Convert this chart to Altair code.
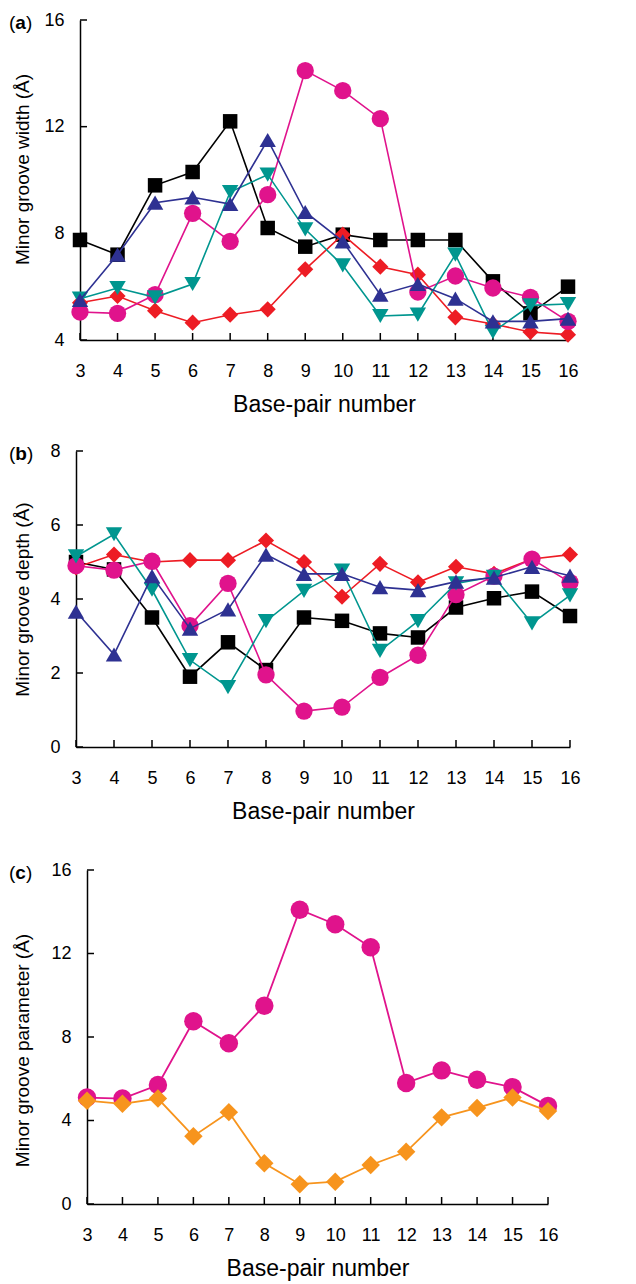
import altair as alt
import pandas as pd

# ---------------- data ----------------
base_pairs = list(range(3, 17))

# (a) minor groove width (Å)
width_black = [7.75, 7.2, 9.8, 10.3, 12.2, 8.2, 7.5, 7.95, 7.75, 7.75, 7.75, 6.2, 5.0, 6.0]
width_red = [5.4, 5.65, 5.1, 4.65, 4.95, 5.15, 6.65, 7.95, 6.75, 6.45, 4.85, 4.6, 4.3, 4.2]
width_blue = [5.5, 7.2, 9.15, 9.35, 9.1, 11.5, 8.8, 7.7, 5.7, 6.1, 5.55, 4.7, 4.7, 4.8]
width_teal = [5.55, 5.95, 5.6, 6.1, 9.55, 10.2, 8.15, 6.8, 4.9, 4.95, 7.2, 4.3, 5.3, 5.35]
width_magenta = [5.05, 5.0, 5.7, 8.75, 7.7, 9.45, 14.1, 13.35, 12.3, 5.8, 6.4, 5.95, 5.6, 4.7]

# (b) minor groove depth (Å)
depth_black = [5.0, 4.8, 3.5, 1.9, 2.83, 2.08, 3.5, 3.41, 3.07, 2.96, 3.77, 4.02, 4.2, 3.54]
depth_red = [4.85, 5.2, 5.0, 5.05, 5.05, 5.58, 5.0, 4.06, 4.95, 4.45, 4.87, 4.68, 5.08, 5.2]
depth_blue = [3.66, 2.5, 4.62, 3.2, 3.72, 5.2, 4.68, 4.68, 4.32, 4.24, 4.47, 4.58, 4.87, 4.63]
depth_teal = [5.15, 5.75, 4.25, 2.35, 1.62, 3.4, 4.22, 4.77, 2.6, 3.4, 4.42, 4.6, 3.34, 4.1]
depth_magenta = [4.9, 4.78, 5.02, 3.28, 4.42, 1.95, 0.97, 1.08, 1.88, 2.48, 4.12, 4.62, 5.08, 4.45]

# (c) minor groove parameter (Å)
param_width = [5.1, 5.05, 5.7, 8.75, 7.7, 9.5, 14.1, 13.4, 12.3, 5.8, 6.4, 5.95, 5.6, 4.7]
param_depth = [4.95, 4.8, 5.05, 3.25, 4.4, 1.95, 0.95, 1.07, 1.87, 2.5, 4.15, 4.6, 5.1, 4.45]

yticks_a = [4, 8, 12, 16]
yticks_b = [0, 2, 4, 6, 8]
yticks_c = [0, 4, 8, 12, 16]

BLACK = "#000000"
RED = "#ED1C24"
BLUE = "#2E3192"
TEAL = "#00968F"
MAGENTA = "#E0138C"
ORANGE = "#F7941D"
FONT = "Liberation Sans"


def make_panel(series, y_domain, y_ticks, y_title, letter, letter_w,
               plot_w, plot_h, left_off, shift, title_x, title_y, line_w, extra_top=0):
    # the plot area is drawn `shift` px left of the panel origin
    x_enc = alt.X(
        "bp:Q",
        scale=alt.Scale(domain=[3, 16], nice=False, zero=False,
                        range=[-shift, plot_w - shift]),
        axis=alt.Axis(values=base_pairs, title="Base-pair number", format="d",
                      labelFlush=False, labelOverlap=False, ticks=False,
                      labelPadding=22, titlePadding=13.5, titleFontSize=23,
                      labelFontSize=18, grid=False),
    )
    y_enc = alt.Y(
        "v:Q",
        scale=alt.Scale(domain=y_domain, nice=False, zero=False),
        axis=alt.Axis(values=y_ticks, title=y_title, titleX=title_x, titleY=title_y,
                      ticks=False, labelPadding=16, labelFontSize=18, offset=shift,
                      titleFontSize=19, grid=False),
    )
    layers = []
    # inward tick marks
    layers.append(
        alt.Chart(pd.DataFrame({"bp": base_pairs}))
        .mark_rule(color="black", strokeWidth=1.5)
        .encode(x=x_enc, y=alt.value(plot_h - 7), y2=alt.value(plot_h))
    )
    layers.append(
        alt.Chart(pd.DataFrame({"v": y_ticks}))
        .mark_rule(color="black", strokeWidth=1.5)
        .encode(y=y_enc, x=alt.value(-shift), x2=alt.value(-shift + 7))
    )
    for vals, color, shape, size in series:
        df = pd.DataFrame({"bp": base_pairs, "v": vals})
        ch = alt.Chart(df)
        layers.append(ch.mark_line(color=color, strokeWidth=line_w).encode(x=x_enc, y=y_enc))
        layers.append(
            ch.mark_point(shape=shape, filled=True, color=color, size=size,
                          opacity=1, strokeWidth=0).encode(x=x_enc, y=y_enc)
        )
    # panel letter "(a)" with bold letter
    one = pd.DataFrame({"k": [0]})
    x0 = -shift - left_off
    pieces = [("(", "normal", 0.0), (letter, "bold", 6.3), (")", "normal", 6.3 + letter_w)]
    for txt, wt, dx in pieces:
        layers.append(
            alt.Chart(one)
            .mark_text(align="left", baseline="middle", fontSize=19, font=FONT,
                       fontWeight=wt, color="black")
            .encode(x=alt.value(x0 + dx), y=alt.value(3), text=alt.value(txt))
        )
    if extra_top:
        # invisible spacer that only widens the panel's top margin
        layers.append(
            alt.Chart(one)
            .mark_text(align="left", baseline="middle", fontSize=19, font=FONT, opacity=0)
            .encode(x=alt.value(x0), y=alt.value(-extra_top), text=alt.value("("))
        )
    return alt.layer(*layers).properties(width=plot_w - shift, height=plot_h)


panel_a = make_panel(
    [
        (width_black, BLACK, "square", 210),
        (width_red, RED, "diamond", 260),
        (width_magenta, MAGENTA, "circle", 300),
        (width_teal, TEAL, "triangle-down", 270),
        (width_blue, BLUE, "triangle-up", 270),
    ],
    [4, 16], yticks_a, "Minor groove width (Å)", "a", 10.6,
    488, 320, 71, 7, -48, 149, 1.6,
)

panel_b = make_panel(
    [
        (depth_black, BLACK, "square", 210),
        (depth_red, RED, "diamond", 260),
        (depth_magenta, MAGENTA, "circle", 300),
        (depth_teal, TEAL, "triangle-down", 270),
        (depth_blue, BLUE, "triangle-up", 270),
    ],
    [0, 8], yticks_b, "Minor groove depth (Å)", "b", 11.6,
    494, 296, 67, 11, -44, 148, 1.6,
)

panel_c = make_panel(
    [
        (param_width, MAGENTA, "circle", 340),
        (param_depth, ORANGE, "diamond", 340),
    ],
    [0, 16], yticks_c, "Minor groove parameter (Å)", "c", 10.6,
    461, 334, 78, 0, -55, 180, 1.8, extra_top=12,
)

chart = (
    alt.vconcat(panel_a, panel_b, panel_c, spacing=25)
    .properties(padding={"left": 9, "top": 11, "right": 5, "bottom": 5})
    .configure(font=FONT)
    .configure_view(stroke=None)
    .configure_axis(
        domainColor="black", domainWidth=1.5, labelColor="black", titleColor="black",
        titleFontWeight="normal", labelFont=FONT, titleFont=FONT,
    )
)

chart.save("out.html", embed_options={"renderer": "svg", "actions": False})
